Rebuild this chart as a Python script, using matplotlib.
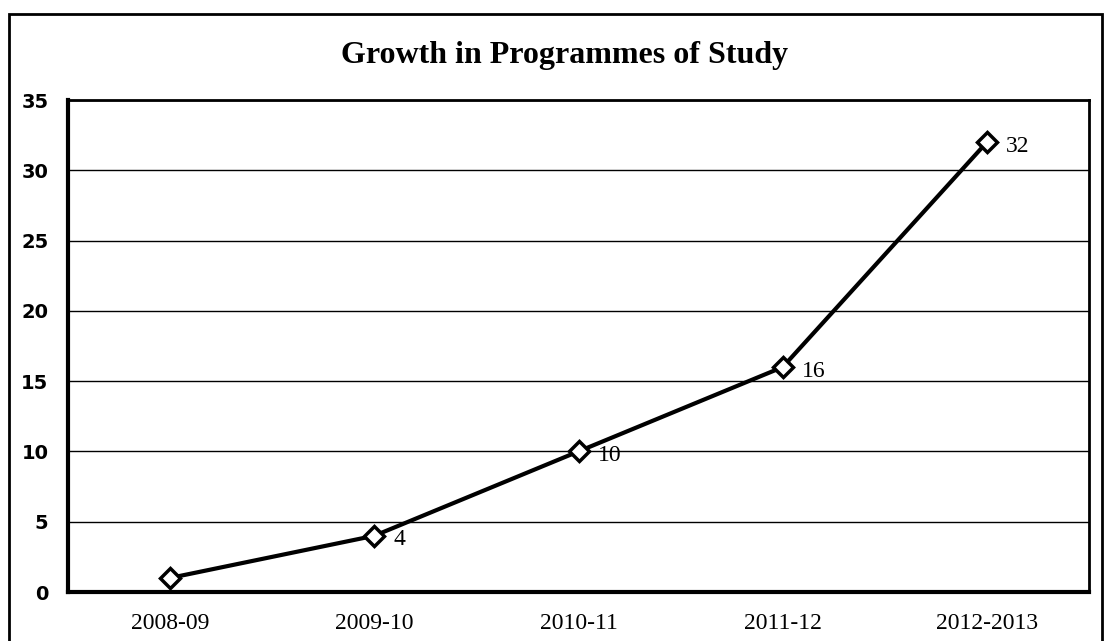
import matplotlib.pyplot as plt
from matplotlib.patches import Rectangle

years = ['2008-09', '2009-10', '2010-11', '2011-12', '2012-2013']
programmes = [1, 4, 10, 16, 32]
yticks = [0, 5, 10, 15, 20, 25, 30, 35]

fig = plt.figure(figsize=(11.04, 6.41), dpi=100)
ax = fig.add_axes([68 / 1104, 1 - 592 / 641, (1089 - 68) / 1104, (592 - 100) / 641])

x = range(len(years))
ax.plot(x, programmes, color='black', lw=3, marker='D', markersize=10,
        markerfacecolor='white', markeredgecolor='black', markeredgewidth=2.5, zorder=3)
for i, v in enumerate(programmes):
    if i == 0:
        continue
    ax.annotate(str(v), (i, v), xytext=(14, -3), textcoords='offset points',
                va='center', ha='left', fontsize=17, family='Liberation Serif')

ax.set_xlim(-0.5, len(years) - 0.5)
ax.set_ylim(0, 35)
ax.set_xticks(list(x))
ax.set_xticklabels(years, family='Liberation Serif', fontsize=17)
ax.set_yticks(yticks)
ax.set_yticklabels([str(t) for t in yticks], family='DejaVu Sans', fontsize=14, fontweight='bold')
ax.tick_params(axis='x', length=0, pad=15)
ax.tick_params(axis='y', length=0, pad=14)
ax.yaxis.grid(True, color='black', lw=1)
ax.set_axisbelow(True)
for s in ['left', 'bottom']:
    ax.spines[s].set_linewidth(3)
for s in ['top', 'right']:
    ax.spines[s].set_linewidth(2)

fig.text(565 / 1104, 1 - 56 / 641, 'Growth in Programmes of Study', ha='center', va='center',
         fontsize=23, fontweight='bold', family='Liberation Serif')

fig.patches.append(Rectangle((9 / 1104, -0.1), (1102 - 9) / 1104, 1.1 - 14 / 641,
                             transform=fig.transFigure, fill=False, lw=2, edgecolor='black'))

fig.savefig('out.png', dpi=100)
